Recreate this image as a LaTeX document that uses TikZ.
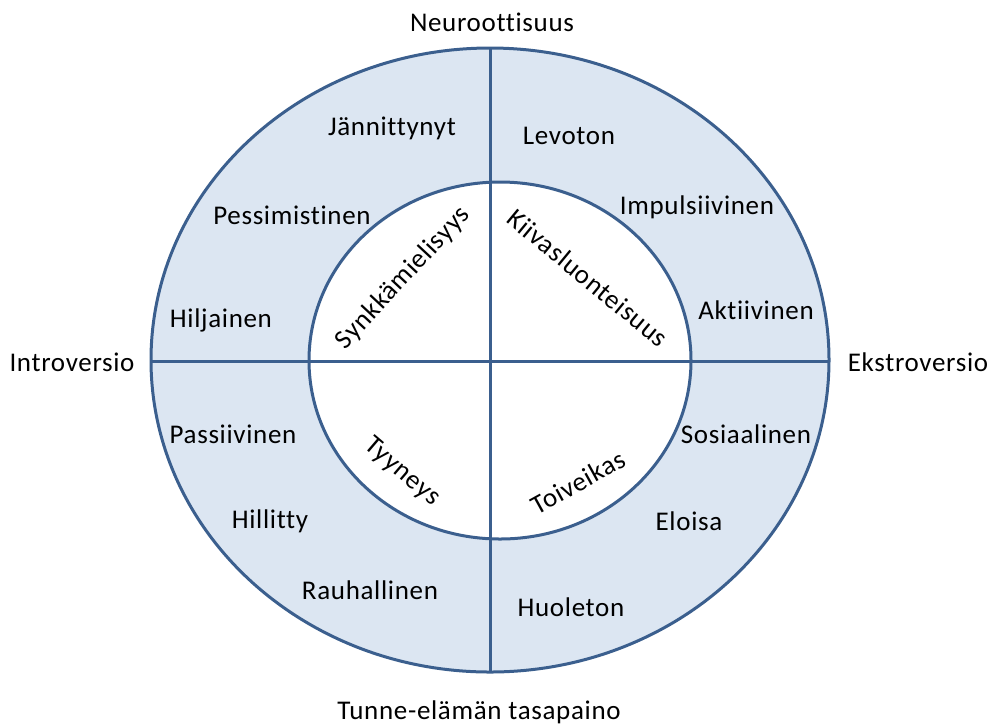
\documentclass[tikz,border=0pt]{standalone}
\usepackage{fontspec}
\setmainfont[LetterSpace=2.5, Ligatures=NoCommon]{Carlito}
\usepackage{tikz}

\definecolor{rengas}{HTML}{DCE6F2}
\definecolor{viiva}{HTML}{3B5F8E}

\begin{document}
\begin{tikzpicture}[x=0.5pt, y=-0.5pt, every node/.style={font=\fontsize{13.5}{16}\selectfont, inner sep=1pt},
	akseli/.style={draw=viiva, line width=1.5pt}]
	\useasboundingbox (0,0) rectangle (989,725);
	
	% === renkaat ===
	\fill[rengas] (490,360) ellipse [x radius=339, y radius=312];
	\fill[white] (500,360.5) ellipse [x radius=191, y radius=178.5];
	\draw[akseli] (490,360) ellipse [x radius=339, y radius=312];
	\draw[akseli] (500,360.5) ellipse [x radius=191, y radius=178.5];
	
	% akselien päät
	\coordinate (ylos) at (490,48);
	\coordinate (alas) at (490,672);
	\coordinate (vas) at (151,361);
	\coordinate (oik) at (829,361);
	\draw[akseli] (ylos) -- (alas);
	\draw[akseli] (vas) -- (oik);
	
	% === akselien nimet ===
	\node (neuro) at (492,22) {Neuroottisuus};
	\node (tasap) at (479,712) {Tunne-elämän tasapaino};
	\node (intro) at (72,362) {Introversio};
	\node (ekstro) at (918,362) {Ekstroversio};
	
	% === temperamentit (sisärengas) ===
	\node[rotate=47] (synk) at (403,278) {Synkkämielisyys};
	\node[rotate=-39.5] (kiiv) at (588,278) {Kiivasluonteisuus};
	\node[rotate=-40.5] (tyyn) at (402,472) {Tyyneys};
	\node[rotate=29] (toiv) at (578,482) {Toiveikas};
	
	% === piirteet (ulkorengas) ===
	\node (jann) at (392,128) {Jännittynyt};
	\node (pess) at (292,215) {Pessimistinen};
	\node (hilj) at (221,320) {Hiljainen};
	\node (levo) at (569,136) {Levoton};
	\node (impu) at (697,207) {Impulsiivinen};
	\node (akti) at (756,310) {Aktiivinen};
	\node (pass) at (233,434) {Passiivinen};
	\node (hill) at (270,521) {Hillitty};
	\node (rauh) at (370,590) {Rauhallinen};
	\node (sosi) at (746,434) {Sosiaalinen};
	\node (eloi) at (689,521) {Eloisa};
	\node (huol) at (571,607) {Huoleton};
\end{tikzpicture}
\end{document}
